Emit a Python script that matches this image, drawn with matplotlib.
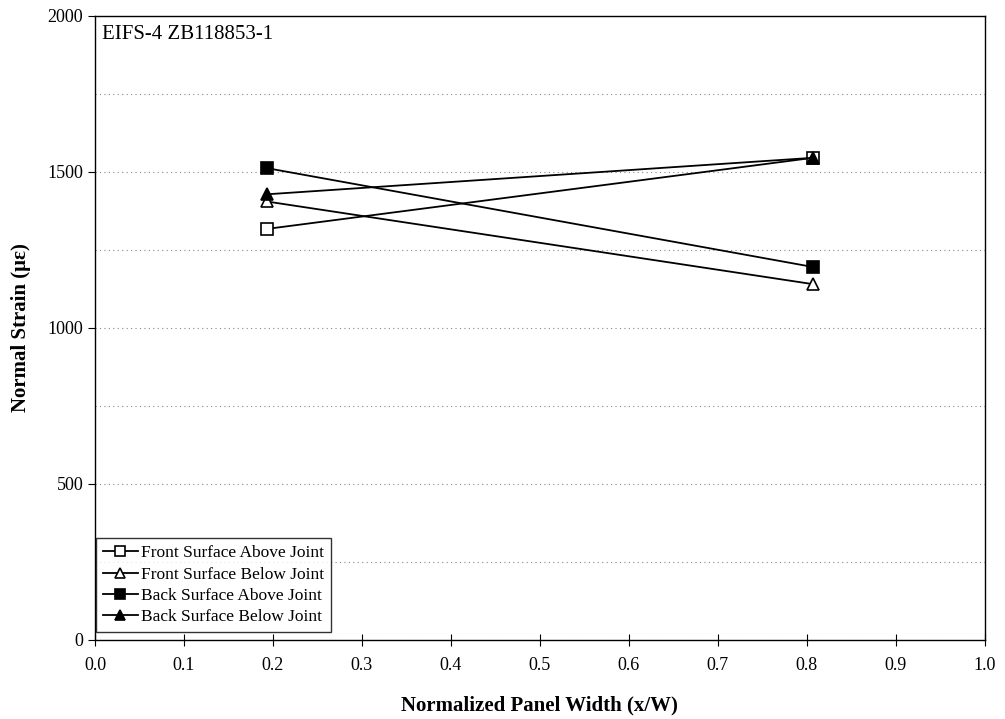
import matplotlib
matplotlib.use("Agg")
import matplotlib.pyplot as plt
from matplotlib.ticker import MultipleLocator

plt.rcParams["font.family"] = ["Liberation Serif", "DejaVu Serif"]

x_pos = [0.193, 0.807]
front_above = [1317, 1545]
front_below = [1405, 1140]
back_above = [1512, 1195]
back_below = [1428, 1545]

series = [
    ("Front Surface Above Joint", front_above, "s", "white"),
    ("Front Surface Below Joint", front_below, "^", "white"),
    ("Back Surface Above Joint", back_above, "s", "black"),
    ("Back Surface Below Joint", back_below, "^", "black"),
]

fig = plt.figure(figsize=(10.05, 7.19), dpi=100)
ax = fig.add_axes([0.0945, 0.110, 0.8855, 0.868])

for label, vals, marker, face in series:
    ax.plot(x_pos, vals, color="black", lw=1.3, marker=marker, ms=8,
            markerfacecolor=face, markeredgecolor="black", mew=1.2,
            label=label, zorder=3)

ax.set_xlim(0, 1.0)
ax.set_ylim(0, 2000)
ax.xaxis.set_major_locator(MultipleLocator(0.1))
ax.yaxis.set_major_locator(MultipleLocator(500))
ax.yaxis.set_minor_locator(MultipleLocator(250))
ax.set_xticklabels([f"{v:.1f}" for v in ax.get_xticks()])
ax.grid(True, axis="y", which="both", color="#888888", ls=(0, (1, 3)), lw=0.8)
ax.tick_params(axis="x", which="major", labelsize=13, direction="inout", length=8, pad=8)
ax.tick_params(axis="y", which="major", labelsize=13, direction="out", length=5)
ax.tick_params(axis="y", which="minor", length=0)

ax.set_xlabel("Normalized Panel Width (x/W)", fontsize=15, fontweight="bold", labelpad=16)
ax.set_ylabel("Normal Strain (\u03bc\u03b5)", fontsize=15, fontweight="bold", labelpad=12)

ax.text(0.008, 0.985, "EIFS-4 ZB118853-1", transform=ax.transAxes,
        fontsize=15, ha="left", va="top")

leg = ax.legend(loc="lower left", bbox_to_anchor=(0.001, 0.012), borderaxespad=0,
                fontsize=12.5, frameon=True, fancybox=False,
                edgecolor="black", handlelength=2.0,
                handletextpad=0.2, labelspacing=0.3, markerscale=0.9)
leg.get_frame().set_linewidth(1.0)

for spine in ax.spines.values():
    spine.set_linewidth(1.0)

fig.savefig("out.png", dpi=100)
